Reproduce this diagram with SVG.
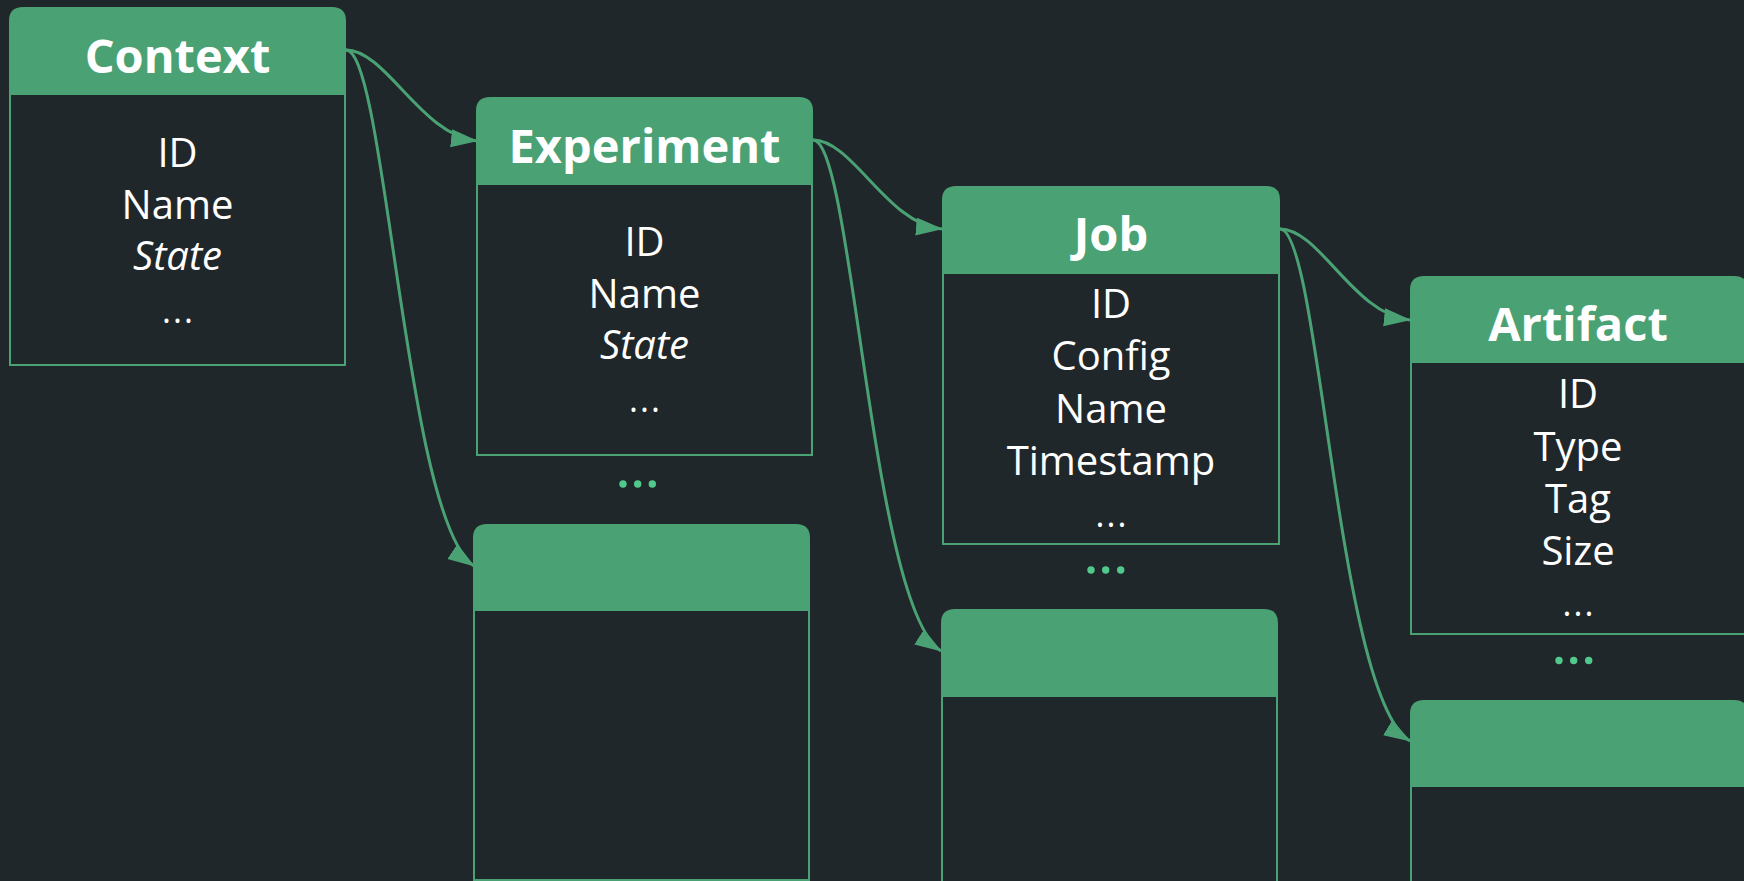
<svg xmlns="http://www.w3.org/2000/svg" width="1744" height="881" viewBox="0 0 1744 881">
  <style>
    .box { fill: #20272a; stroke: #4aa274; stroke-width: 2; }
    .head { fill: #4aa274; }
    .title { font-family: "Open Sans", "Liberation Sans", sans-serif; font-weight: 700; font-size: 47px; fill: #ffffff; text-anchor: middle; }
    .field { font-family: "Open Sans", "Liberation Sans", sans-serif; font-weight: 400; font-size: 40px; fill: #ffffff; text-anchor: middle; }
    .ital { font-style: italic; }
    .more { font-family: "Open Sans", "Liberation Sans", sans-serif; font-size: 34px; letter-spacing: 2px; fill: #ffffff; text-anchor: middle; }
    .dot { fill: #52c98c; }
    .link { fill: none; stroke: #4aa274; stroke-width: 3; marker-end: url(#arrow); }
  </style>
  <defs>
    <marker id="arrow" markerUnits="userSpaceOnUse" markerWidth="30" markerHeight="20" refX="26" refY="9" orient="auto">
      <path d="M0,0 L27,9 L0,18 Z" fill="#4aa274"/>
    </marker>
  </defs>

  <rect width="1744" height="881" fill="#20272a"/>

  <!-- Context -->
  <g id="context">
    <rect class="box" x="10" y="94" width="335" height="271"/>
    <path class="head" d="M9,95 V21 Q9,7 23,7 H332 Q346,7 346,21 V95 Z"/>
    <text class="title" x="177.5" y="72.5">Context</text>
    <text class="field" x="177.5" y="166.5">ID</text>
    <text class="field" x="177.5" y="219">Name</text>
    <text class="field ital" x="177.5" y="270">State</text>
    <text class="more" x="178.5" y="323">...</text>
  </g>

  <!-- Experiment -->
  <g id="experiment">
    <rect class="box" x="477" y="184" width="335" height="271"/>
    <path class="head" d="M476,185 V111 Q476,97 490,97 H799 Q813,97 813,111 V185 Z"/>
    <text class="title" x="644.5" y="162.5">Experiment</text>
    <text class="field" x="644.5" y="256">ID</text>
    <text class="field" x="644.5" y="308">Name</text>
    <text class="field ital" x="644.5" y="359">State</text>
    <text class="more" x="645.5" y="412">...</text>
  </g>
  <g id="experiment-more">
    <circle class="dot" cx="623" cy="484" r="3.7"/>
    <circle class="dot" cx="637.7" cy="484" r="3.7"/>
    <circle class="dot" cx="652.3" cy="484" r="3.7"/>
  </g>
  <g id="experiment-next">
    <rect class="box" x="474" y="610" width="335" height="270"/>
    <path class="head" d="M473,611 V538 Q473,524 487,524 H796 Q810,524 810,538 V611 Z"/>
  </g>

  <!-- Job -->
  <g id="job">
    <rect class="box" x="943" y="273" width="336" height="271"/>
    <path class="head" d="M942,274 V200 Q942,186 956,186 H1266 Q1280,186 1280,200 V274 Z"/>
    <text class="title" x="1111" y="250.5">Job</text>
    <text class="field" x="1111" y="318">ID</text>
    <text class="field" x="1111" y="370">Config</text>
    <text class="field" x="1111" y="423">Name</text>
    <text class="field" x="1111" y="474.5">Timestamp</text>
    <text class="more" x="1112" y="527">...</text>
  </g>
  <g id="job-more">
    <circle class="dot" cx="1091" cy="570" r="3.7"/>
    <circle class="dot" cx="1105.7" cy="570" r="3.7"/>
    <circle class="dot" cx="1120.7" cy="570" r="3.7"/>
  </g>
  <g id="job-next">
    <rect class="box" x="942" y="696" width="335" height="271"/>
    <path class="head" d="M941,697 V623 Q941,609 955,609 H1264 Q1278,609 1278,623 V697 Z"/>
  </g>

  <!-- Artifact -->
  <g id="artifact">
    <rect class="box" x="1411" y="362" width="336" height="272"/>
    <path class="head" d="M1410,363 V290 Q1410,276 1424,276 H1734 Q1748,276 1748,290 V363 Z"/>
    <text class="title" x="1578" y="341">Artifact</text>
    <text class="field" x="1578" y="408">ID</text>
    <text class="field" x="1578" y="461">Type</text>
    <text class="field" x="1578" y="513">Tag</text>
    <text class="field" x="1578" y="565">Size</text>
    <text class="more" x="1579" y="616">...</text>
  </g>
  <g id="artifact-more">
    <circle class="dot" cx="1559" cy="660.5" r="3.7"/>
    <circle class="dot" cx="1573.7" cy="660.5" r="3.7"/>
    <circle class="dot" cx="1588.7" cy="660.5" r="3.7"/>
  </g>
  <g id="artifact-next">
    <rect class="box" x="1411" y="786" width="336" height="271"/>
    <path class="head" d="M1410,787 V714 Q1410,700 1424,700 H1734 Q1748,700 1748,714 V787 Z"/>
  </g>

  <!-- connectors -->
  <g id="connectors">
    <path class="link" d="M346,50 C386,50 421,135 477,141"/>
    <path class="link" d="M346,50 C386,50 405,520 474,566"/>
    <path class="link" d="M813,140 C853,140 887,224 942,229"/>
    <path class="link" d="M813,140 C853,140 871,606 941,651"/>
    <path class="link" d="M1280,229 C1320,229 1353,314 1410,320"/>
    <path class="link" d="M1280,229 C1320,229 1337,697 1410,741"/>
  </g>
</svg>
